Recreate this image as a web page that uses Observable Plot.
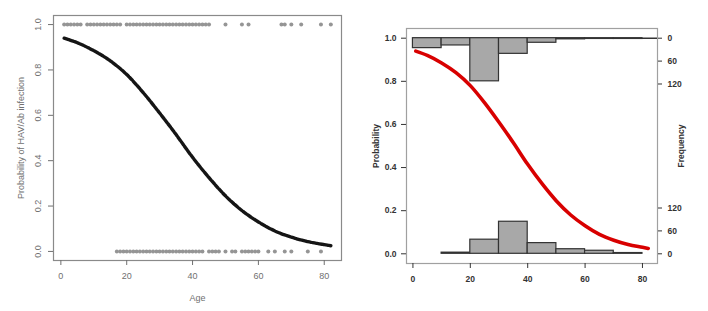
<!DOCTYPE html>
<html>
<head>
<meta charset="utf-8">
<script src="https://cdn.jsdelivr.net/npm/d3@7"></script>
<script src="https://cdn.jsdelivr.net/npm/@observablehq/plot@0.6"></script>
<style>
  html, body { margin: 0; padding: 0; background: #fff; }
  #wrap { display: flex; width: 708px; height: 311px; }
  #wrap svg { display: block; }
</style>
</head>
<body>
<div id="wrap"></div>
<script>
// ---- data ----
// ages of observations with outcome 1 (top row) and 0 (bottom row)
const topAges = [1,2,3,4,5,6,8,9,10,11,12,13,14,15,16,17,18,20,21,22,23,24,25,26,27,28,29,30,31,32,33,34,35,36,37,38,39,40,41,42,43,44,45,50,55,57,67,68,70,73,79,82];
const botAges = [17,18,19,20,21,22,23,24,25,26,27,28,29,30,31,32,33,34,35,36,37,38,39,40,41,42,43,45,46,47,48,50,52,53,55,56,57,58,59,60,63,65,68,70,75,79];
// fitted probability curve
const curveAge  = [1, 5, 10, 15, 20, 25, 30, 35, 40, 45, 50, 55, 60, 65, 70, 75, 80, 82];
const curveProb = [0.94, 0.92, 0.885, 0.84, 0.78, 0.70, 0.61, 0.515, 0.415, 0.325, 0.245, 0.18, 0.13, 0.09, 0.063, 0.043, 0.03, 0.025];
// histogram bins (width 10) and counts
const binStart  = [0, 10, 20, 30, 40, 50, 60, 70];
const topCounts = [26, 19, 113, 41, 12, 3, 2, 2];
const botCounts = [0, 3, 37, 84, 28, 12, 8, 2];
// tick labels
const probTicks = [0, 0.2, 0.4, 0.6, 0.8, 1.0];
const ageTicks  = [0, 20, 40, 60, 80];
const freqTicks = [0, 60, 120];

const curve = curveAge.map((a, i) => ({age: a, p: curveProb[i]}));
const histScale = 0.2 / d3.max(topCounts);
const topBins = binStart.map((b, i) => ({x0: b, x1: b + 10, c: topCounts[i]}));
const botBins = binStart.map((b, i) => ({x0: b, x1: b + 10, c: botCounts[i]})).filter(d => d.c > 0);

const xDomain = [-2.24, 85.24];
const fmt1 = d3.format(".1f");

// ---- left panel ----
const left = Plot.plot({
  width: 354, height: 311,
  marginLeft: 53, marginRight: 13, marginTop: 15, marginBottom: 51,
  x: {domain: xDomain},
  y: {domain: [-0.04, 1.04]},
  style: {fontFamily: "Liberation Sans, Arial, sans-serif", fontSize: "9px", color: "#707070", background: "#fff"},
  marks: [
    Plot.frame({stroke: "#8a8a8a", strokeWidth: 1.2}),
    Plot.axisY({anchor: "left", ticks: probTicks, tickFormat: fmt1, tickSize: 5, tickPadding: 8, tickRotate: -90,
      label: "Probability of HAV/Ab infection", labelAnchor: "center", labelOffset: 36, labelArrow: "none", fontSize: 9}),
    Plot.axisX({anchor: "bottom", ticks: ageTicks, tickSize: 5, tickPadding: 7,
      label: "Age", labelAnchor: "center", labelOffset: 40, labelArrow: "none", fontSize: 9}),
    Plot.dot(topAges, {x: d => d, y: () => 1, r: 2, fill: "#959595", stroke: "none"}),
    Plot.dot(botAges, {x: d => d, y: () => 0, r: 2, fill: "#959595", stroke: "none"}),
    Plot.line(curve, {x: "age", y: "p", curve: "monotone-x", stroke: "#151515", strokeWidth: 3.4, strokeDasharray: "4,1.5"})
  ]
});

// ---- right panel ----
const right = Plot.plot({
  width: 354, height: 311,
  marginLeft: 52, marginRight: 51, marginTop: 28, marginBottom: 48,
  x: {domain: xDomain},
  y: {domain: [-0.045, 1.045]},
  style: {fontFamily: "Liberation Sans, Arial, sans-serif", fontSize: "8.5px", color: "#333", background: "#fff"},
  marks: [
    Plot.frame({stroke: "#a0a0a0", strokeWidth: 1.2}),
    Plot.axisY({anchor: "left", ticks: probTicks, tickFormat: fmt1, tickSize: 5, tickPadding: 5, fontWeight: "bold",
      label: "Probability", labelAnchor: "center", labelOffset: 34, labelArrow: "none"}),
    Plot.axisY(freqTicks.map(f => f * histScale), {anchor: "right", tickFormat: (d, i) => freqTicks[i], tickSize: 4, tickPadding: 6, fontWeight: "bold",
      label: "Frequency", labelAnchor: "center", labelOffset: 26, labelArrow: "none"}),
    Plot.axisY(freqTicks.map(f => 1 - f * histScale), {anchor: "right", tickFormat: (d, i) => freqTicks[i], tickSize: 4, tickPadding: 6, fontWeight: "bold", label: null}),
    Plot.axisX({anchor: "bottom", ticks: ageTicks, tickSize: 5, tickPadding: 7, fontWeight: "bold", label: null}),
    Plot.ruleY([1], {x1: 0, x2: xDomain[1], stroke: "#333", strokeWidth: 1.5}),
    Plot.rect(topBins, {x1: "x0", x2: "x1", y1: () => 1, y2: d => 1 - d.c * histScale, fill: "#a8a8a8", stroke: "#333", strokeWidth: 1.2}),
    Plot.rect(botBins, {x1: "x0", x2: "x1", y1: () => 0, y2: d => d.c * histScale, fill: "#a8a8a8", stroke: "#333", strokeWidth: 1.2}),
    Plot.line(curve, {x: "age", y: "p", curve: "monotone-x", stroke: "#d80000", strokeWidth: 3.6})
  ]
});

document.getElementById("wrap").append(left, right);
</script>
</body>
</html>
